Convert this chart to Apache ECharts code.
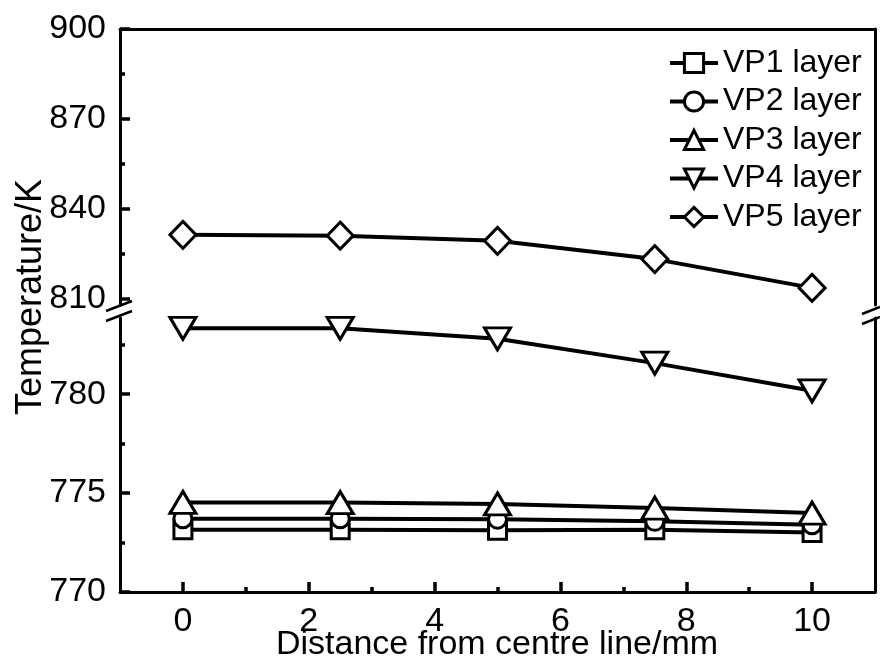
<!DOCTYPE html>
<html>
<head>
<meta charset="utf-8">
<script src="https://cdn.jsdelivr.net/npm/echarts@6/dist/echarts.min.js"></script>
<style>
html,body{margin:0;padding:0;background:#fff;}
#chart{width:880px;height:661px;}
</style>
</head>
<body>
<div id="chart"></div>
<script>
// ---- data ----
const distances = [0, 2.5, 5, 7.5, 10];
const seriesNames = ['VP1 layer', 'VP2 layer', 'VP3 layer', 'VP4 layer', 'VP5 layer'];
const vp1 = [773.15, 773.15, 773.12, 773.15, 773.01];
const vp2 = [773.70, 773.70, 773.68, 773.57, 773.40];
const vp3 = [774.53, 774.52, 774.45, 774.24, 773.99];
const vp4 = [783.33, 783.33, 782.80, 781.57, 780.17];
const vp5 = [831.4, 831.1, 829.4, 823.3, 813.7];
const xMajorTicks = [0, 2, 4, 6, 8, 10];
const xMinorTicks = [1, 3, 5, 7, 9];
const yUpperMajor = [810, 840, 870, 900];
const yUpperMinor = [825, 855, 885];
const yLowerMajor = [770, 775, 780];
const yLowerMinor = [772.5, 777.5, 782.5];

const FONT = 'Liberation Sans, Arial, sans-serif';
const lineW = 3;
const black = '#000';

function pairs(vals){ return distances.map((d,i)=>[d, vals[i]]); }

const baseLine = {show:true, onZero:false, lineStyle:{color:black, width:lineW}};
const noLine = {show:false, onZero:false};

const chart = echarts.init(document.getElementById('chart'), null, {renderer:'canvas'});

const symStyle = {color:'#fff', borderColor:black, borderWidth:3};
function mkSeries(name, vals, grid, symbol, size, rotate){
  return {
    name, type:'line', data: pairs(vals),
    xAxisIndex: grid === 0 ? 0 : 1,
    yAxisIndex: grid === 0 ? 0 : 3,
    symbol, symbolSize: size, symbolRotate: rotate || 0,
    showAllSymbol:true,
    lineStyle:{color:black, width:4},
    itemStyle: symStyle,
    emphasis:{disabled:true},
    animation:false, z: 3
  };
}
const labelStyle = {color:black, fontSize:34, fontFamily:FONT};
const majorTick = (vals)=>({show:true, inside:true, length:10, lineStyle:{color:black,width:3.5}, customValues:vals});
const minorTick = (vals)=>({show:true, inside:true, length:5, lineStyle:{color:black,width:3.5}, customValues:vals});

const option = {
  animation:false,
  backgroundColor:'#fff',
  grid:[
    {left:120, right:5, top:29, height:276, containLabel:false},
    {left:120, right:5, top:318, height:274, containLabel:false}
  ],
  xAxis:[
    {gridIndex:0, type:'value', position:'top', min:-1, max:11,
     axisLine:baseLine, axisTick:noLine, axisLabel:noLine, splitLine:noLine},
    {gridIndex:1, type:'value', position:'bottom', min:-1, max:11,
     axisLine:baseLine, axisTick:majorTick(xMajorTicks),
     axisLabel:Object.assign({show:true, customValues:xMajorTicks, margin:13}, labelStyle),
     splitLine:noLine},
    {gridIndex:1, type:'value', position:'bottom', min:-1, max:11,
     axisLine:noLine, axisTick:minorTick(xMinorTicks),
     axisLabel:noLine, splitLine:noLine}
  ],
  yAxis:[
    {gridIndex:0, type:'value', position:'left', min:808, max:900,
     axisLine:baseLine, axisTick:majorTick(yUpperMajor),
     axisLabel:Object.assign({show:true, customValues:yUpperMajor, margin:14}, labelStyle),
     splitLine:noLine},
    {gridIndex:0, type:'value', position:'left', min:808, max:900,
     axisLine:noLine, axisTick:minorTick(yUpperMinor),
     axisLabel:noLine, splitLine:noLine},
    {gridIndex:0, type:'value', position:'right', min:808, max:900,
     axisLine:baseLine, axisTick:noLine, axisLabel:noLine, splitLine:noLine},
    {gridIndex:1, type:'value', position:'left', min:770, max:783.85,
     axisLine:baseLine, axisTick:majorTick(yLowerMajor),
     axisLabel:Object.assign({show:true, customValues:yLowerMajor, margin:14}, labelStyle),
     splitLine:noLine},
    {gridIndex:1, type:'value', position:'left', min:770, max:783.85,
     axisLine:noLine, axisTick:minorTick(yLowerMinor),
     axisLabel:noLine, splitLine:noLine},
    {gridIndex:1, type:'value', position:'right', min:770, max:783.85,
     axisLine:baseLine, axisTick:noLine, axisLabel:noLine, splitLine:noLine}
  ],
  legend:{
    data: seriesNames,
    orient:'vertical',
    left: 663, top: 42,
    itemWidth: 48, itemHeight: 24,
    itemGap: 6.5,
    lineStyle:{width:4, color:black},
    itemStyle:{color:'#fff', borderColor:black, borderWidth:3},
    textStyle:{color:black, fontSize:32, fontFamily:FONT, lineHeight:31, padding:[0,0,0,0]},
    selectedMode:false
  },
  series:[
    mkSeries(seriesNames[0], vp1, 1, 'rect', 18),
    mkSeries(seriesNames[1], vp2, 1, 'circle', 18),
    mkSeries(seriesNames[2], vp3, 1, 'triangle', [26,22]),
    mkSeries(seriesNames[3], vp4, 1, 'triangle', [26,22], 180),
    mkSeries(seriesNames[4], vp5, 0, 'diamond', [26,27])
  ],
  graphic:[
    {type:'text', silent:true,
     style:{text:'Temperature/K', font:'36px ' + FONT, fill:black, textAlign:'center', textVerticalAlign:'middle'},
     x:31, y:297, rotation:Math.PI/2},
    {type:'text', silent:true,
     style:{text:'Distance from centre line/mm', font:'34px ' + FONT, fill:black, textAlign:'center', textVerticalAlign:'middle'},
     x:497, y:645},
    // axis break marks (left)
    {type:'line', silent:true, shape:{x1:106,y1:311,x2:132,y2:301}, style:{stroke:black, lineWidth:2.5}},
    {type:'line', silent:true, shape:{x1:106,y1:321,x2:132,y2:311}, style:{stroke:black, lineWidth:2.5}},
    // axis break marks (right)
    {type:'line', silent:true, shape:{x1:862,y1:314,x2:880,y2:307}, style:{stroke:black, lineWidth:2.5}},
    {type:'line', silent:true, shape:{x1:862,y1:324,x2:880,y2:317}, style:{stroke:black, lineWidth:2.5}}
  ]
};
chart.setOption(option);
</script>
</body>
</html>
